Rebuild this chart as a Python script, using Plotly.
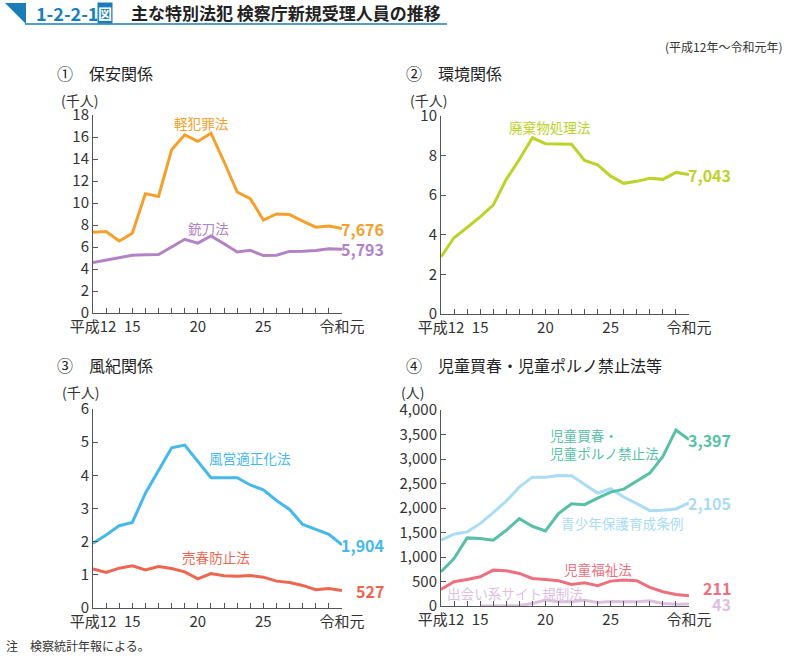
import plotly.graph_objects as go

W, H = 791, 658

# ---------------- data ----------------
years = list(range(12, 32))  # 平成12 ... 令和元 (=平成31)
tick_vals = [12, 15, 20, 25, 31]
tick_text = ["平成12", "15", "20", "25", "令和元"]

keihanzai = [7.35, 7.4, 6.55, 7.25, 10.85, 10.6, 14.85, 16.2, 15.6, 16.35,
             13.75, 11.0, 10.4, 8.45, 9.0, 8.95, 8.35, 7.8, 7.9, 7.676]
jutou = [4.6, 4.8, 5.0, 5.25, 5.3, 5.32, 6.0, 6.7, 6.35, 7.0,
         6.3, 5.55, 5.7, 5.22, 5.25, 5.6, 5.62, 5.68, 5.85, 5.793]
haiki = [2.89, 3.85, 4.37, 4.9, 5.5, 6.8, 7.8, 8.9, 8.6, 8.58,
         8.57, 7.76, 7.53, 6.96, 6.6, 6.7, 6.85, 6.8, 7.15, 7.043]
fuei = [1.95, 2.2, 2.48, 2.58, 3.46, 4.14, 4.83, 4.91, 4.42, 3.93,
        3.93, 3.93, 3.71, 3.56, 3.24, 2.97, 2.52, 2.37, 2.22, 1.904]
baishun = [1.18, 1.07, 1.2, 1.27, 1.15, 1.25, 1.19, 1.09, 0.88, 1.04,
           0.97, 0.96, 0.98, 0.93, 0.81, 0.77, 0.68, 0.55, 0.59, 0.527]
jidou_porno = [698, 970, 1390, 1376, 1342, 1546, 1783, 1627, 1532, 1885,
               2088, 2068, 2203, 2325, 2386, 2542, 2712, 3051, 3593, 3397]
seishonen = [1342, 1464, 1512, 1681, 1905, 2142, 2427, 2630, 2630, 2664,
             2658, 2481, 2305, 2393, 2224, 2088, 1946, 1953, 1980, 2105]
fukushi = [339, 495, 542, 597, 732, 719, 664, 563, 542, 515,
           441, 475, 414, 508, 529, 515, 380, 292, 237, 211]
deai_years = list(range(15, 32))
deai = [0, 0, 0, 10, 50, 123, 87, 87, 115, 70, 90, 85, 85, 105, 50, 35, 43]

FONT = "Noto Sans CJK JP"
C_OR = "#F5A02C"
C_PU = "#B282C4"
C_LI = "#BDD22A"
C_BL = "#45B9EC"
C_RD = "#EE6650"
C_TE = "#58BFA8"
C_LB = "#AADCF4"
C_PK = "#EE6F7E"
C_LP = "#DDBFE2"
AX = "#555555"
TXT = "#333333"


def px(x):
    return x / W


def py(y):
    return 1 - y / H


fig = go.Figure()

panels = [
    # (axis suffix, x-domain px, y-domain px (bottom, top), yrange, dtick, fmt)
    ("", (93, 342), (313, 115), [0, 18], 2, None),
    ("2", (441, 689), (314, 116), [0, 10], 2, None),
    ("3", (93, 342), (608, 409), [0, 6], 1, None),
    ("4", (441, 689), (606, 410), [0, 4000], 500, ","),
]

layout = {}
for suf, (x0, x1), (yb, yt), yr, dt, fmt in panels:
    xa = "xaxis" + suf
    ya = "yaxis" + suf
    layout[xa] = dict(
        domain=[px(x0), px(x1)], range=[12, 31], anchor="y" + suf, automargin=False,
        showgrid=False, zeroline=False, showline=True, linecolor=AX, linewidth=1,
        tickmode="array", tickvals=years,
        ticktext=[tick_text[tick_vals.index(v)] if v in tick_vals else "" for v in years],
        ticks="inside", ticklen=5, tickcolor=AX, tickwidth=1,
        tickfont=dict(family=FONT, size=15, color=TXT), fixedrange=True,
    )
    layout[ya] = dict(
        domain=[py(yb), py(yt)], range=yr, anchor="x" + suf, automargin=False,
        showgrid=False, zeroline=False, showline=True, linecolor=AX, linewidth=1,
        dtick=dt, tick0=0, ticks="inside", ticklen=5, tickcolor=AX, tickwidth=1,
        tickfont=dict(family=FONT, size=15, color=TXT), fixedrange=True,
        tickformat=fmt if fmt else None,
    )


def line(x, y, color, suf):
    fig.add_trace(go.Scatter(
        x=x, y=y, mode="lines", line=dict(color=color, width=3),
        xaxis="x" + suf, yaxis="y" + suf, hoverinfo="skip", cliponaxis=False,
    ))


line(years, keihanzai, C_OR, "")
line(years, jutou, C_PU, "")
line(years, haiki, C_LI, "2")
line(years, fuei, C_BL, "3")
line(years, baishun, C_RD, "3")
line(years, seishonen, C_LB, "4")
line(years, jidou_porno, C_TE, "4")
line(deai_years, deai, C_LP, "4")
line(years, fukushi, C_PK, "4")

ann = []


def end_label(val, color, suf, yshift=0):
    t = f"{val:,.0f}" if val >= 10 else f"{val*1000:,.0f}"
    ann.append(dict(
        x=31, y=val, xref="x" + suf, yref="y" + suf, text=t, showarrow=False,
        xanchor="right", yanchor="middle", xshift=44, yshift=yshift,
        font=dict(family=FONT, size=16, color=color, weight="bold"),
    ))


def name_label(x, y, text, color, suf, xanchor="center", align="center"):
    ann.append(dict(
        x=x, y=y, xref="x" + suf, yref="y" + suf, text=text, showarrow=False,
        xanchor=xanchor, yanchor="middle", align=align,
        font=dict(family=FONT, size=13.6, color=color),
    ))


end_label(keihanzai[-1], C_OR, "")
end_label(jutou[-1], C_PU, "")
end_label(haiki[-1], C_LI, "2")
end_label(fuei[-1], C_BL, "3")
end_label(baishun[-1], C_RD, "3")
end_label(jidou_porno[-1], C_TE, "4")
end_label(seishonen[-1], C_LB, "4")
end_label(fukushi[-1], C_PK, "4", yshift=8)
end_label(deai[-1], C_LP, "4")

name_label(20.3, 17.27, "軽犯罪法", C_OR, "")
name_label(20.8, 7.73, "銃刀法", C_PU, "")
name_label(20.35, 9.44, "廃棄物処理法", C_LI, "2")
name_label(24.0, 4.52, "風営適正化法", C_BL, "3")
name_label(21.4, 1.54, "売春防止法", C_RD, "3")
name_label(20.2, 3296, "児童買春・<br>児童ポルノ禁止法", C_TE, "4", xanchor="left", align="left")
name_label(25.9, 1694, "青少年保護育成条例", C_LB, "4")
name_label(24.0, 755, "児童福祉法", C_PK, "4")
name_label(17.67, 265, "出会い系サイト規制法", C_LP, "4")

# unit labels
for x, y, t in [(79, 100, "(千人)"), (428, 100, "(千人)"), (80, 392, "(千人)"), (412, 392, "(人)")]:
    ann.append(dict(x=px(x), y=py(y), xref="paper", yref="paper", text=t, showarrow=False,
                    xanchor="center", yanchor="middle",
                    font=dict(family=FONT, size=14, color=TXT)))

# panel titles
for x, y, t in [(55, 73, "①　保安関係"), (404, 73, "②　環境関係"),
                (55, 365, "③　風紀関係"), (404, 365, "④　児童買春・児童ポルノ禁止法等")]:
    ann.append(dict(x=px(x), y=py(y), xref="paper", yref="paper", text=t, showarrow=False,
                    xanchor="left", yanchor="middle",
                    font=dict(family=FONT, size=16, color="#222222")))

# header
ann.append(dict(x=px(34), y=py(13), xref="paper", yref="paper", text="1-2-2-1", showarrow=False,
                xanchor="left", yanchor="middle",
                font=dict(family=FONT, size=18, color="#1B7DB8", weight="bold")))
ann.append(dict(x=px(105), y=py(13), xref="paper", yref="paper", text="図", showarrow=False,
                xanchor="center", yanchor="middle", bgcolor="#1B7DB8", borderpad=0,
                font=dict(family=FONT, size=14, color="white", weight="bold")))
ann.append(dict(x=px(129), y=py(13), xref="paper", yref="paper",
                text="主な特別法犯 検察庁新規受理人員の推移", showarrow=False,
                xanchor="left", yanchor="middle",
                font=dict(family=FONT, size=17, color="#222222", weight="bold")))
ann.append(dict(x=px(784), y=py(46), xref="paper", yref="paper", text="(平成12年〜令和元年)",
                showarrow=False, xanchor="right", yanchor="middle",
                font=dict(family=FONT, size=12, color=TXT)))
ann.append(dict(x=px(4), y=py(645), xref="paper", yref="paper", text="注　検察統計年報による。",
                showarrow=False, xanchor="left", yanchor="middle",
                font=dict(family=FONT, size=12, color=TXT)))

shapes = [
    dict(type="path", xref="paper", yref="paper",
         path=f"M {px(5)} {py(3)} L {px(26)} {py(3)} L {px(26)} {py(24)} Z",
         fillcolor="#1B7DB8", line=dict(width=0)),
    dict(type="line", xref="paper", yref="paper", x0=px(25), x1=px(447), y0=py(24), y1=py(24),
         line=dict(color="#1B7DB8", width=1.5)),
]

fig.update_layout(
    width=W, height=H, margin=dict(l=0, r=0, t=0, b=0, pad=0, autoexpand=False),
    paper_bgcolor="white", plot_bgcolor="white", showlegend=False,
    annotations=ann, shapes=shapes, **layout,
)

fig.write_html("out.html", config={"responsive": False, "displayModeBar": False},
               post_script="document.body.style.margin='0';document.body.style.overflow='hidden';")
